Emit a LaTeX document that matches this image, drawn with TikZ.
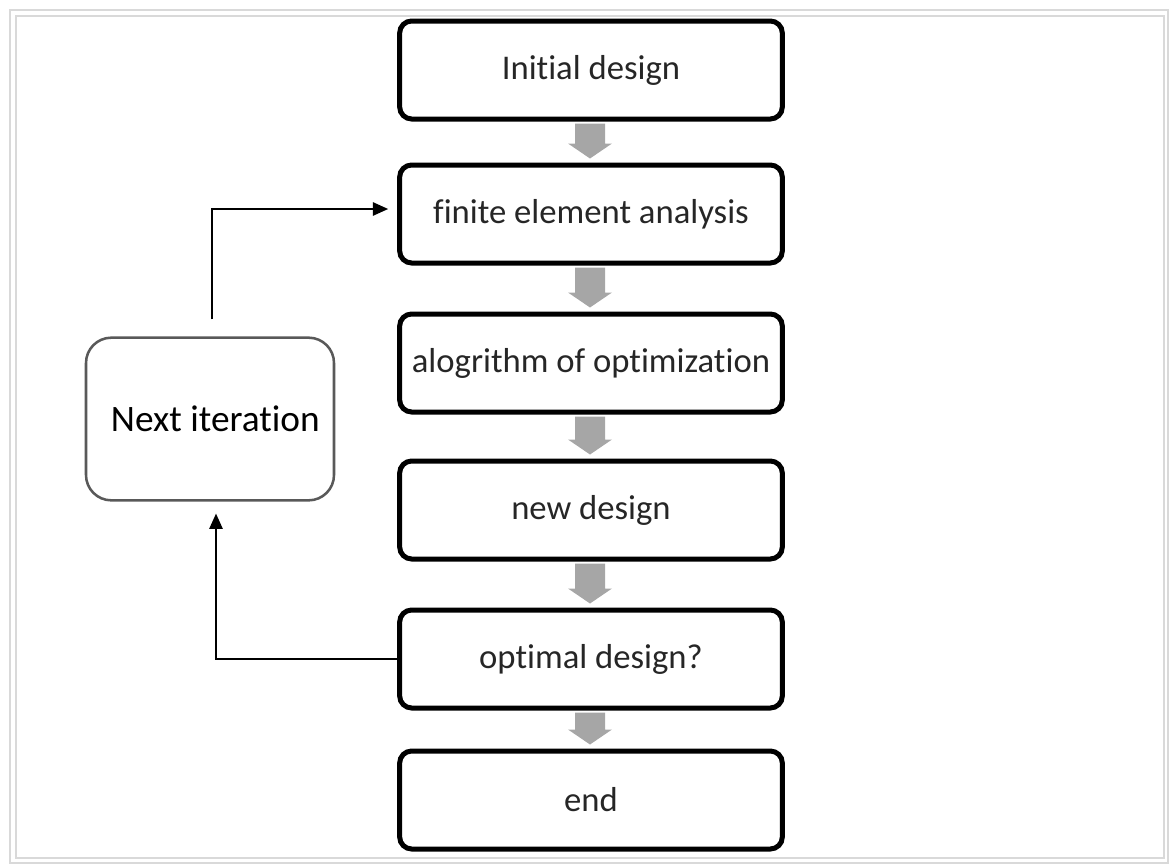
\documentclass[tikz,border=0pt]{standalone}
\usepackage{fontspec}
\setmainfont{Carlito}[Ligatures=CommonOff]
\usetikzlibrary{arrows.meta,calc}
\definecolor{arrowgray}{HTML}{A6A6A6}
\definecolor{framegray}{HTML}{D9D9D9}
\begin{document}
\begin{tikzpicture}[x=0.75pt,y=-0.75pt,
    stage/.style={draw,line width=3.75pt,rounded corners=9pt,
      minimum width=287pt,minimum height=73.5pt,
      text=black!85,font=\fontsize{26}{31}\selectfont},
    loopbox/.style={draw=black!65,line width=1.9pt,rounded corners=19pt,
      minimum width=186pt,minimum height=122pt,
      font=\fontsize{28}{33}\selectfont},
    backline/.style={line width=1.4pt,-{Triangle[length=11.5pt,width=10pt]}}]

  \useasboundingbox (0,0) rectangle (1172,865);
  \draw [framegray,line width=1.2pt] (10,10) rectangle (1168,863);
  \draw [framegray,line width=1.2pt] (16,16) rectangle (1164,858);

  % main chain
  \node [stage] (init) at (591,70) {Initial design};
  \node [stage] (fea)  at (591,214) {finite element analysis};
  \node [stage] (algo) at (591,363) {alogrithm of optimization};
  \node [stage] (new)  at (591,510) {new design};
  \node [stage] (opt)  at (591,659) {optimal design?};
  \node [stage] (end)  at (591,800) {end};

  \node [loopbox] (next) at (210,419) {\hspace{8pt}Next iteration};

  % block arrows between the stages
  \foreach \a/\b in {init/fea,fea/algo,algo/new,new/opt,opt/end}
    \fill [arrowgray] ($(\a.south)+(-16,2)$) -- ($(\b.north)+(-16,-19)$)
      -- ($(\b.north)+(-23,-19)$) -- ($(\b.north)+(-1,-4)$)
      -- ($(\b.north)+(21,-19)$) -- ($(\b.north)+(14,-19)$)
      -- ($(\a.south)+(14,2)$) -- cycle;

  % iteration loop
  \draw [backline] ($(opt.west)+(4,0)$) -| ($(next.south)+(6,12)$);
  \draw [backline] ($(next.north)+(2,-17)$) |- ($(fea.west)+(-9,-5)$);

\end{tikzpicture}
\end{document}
